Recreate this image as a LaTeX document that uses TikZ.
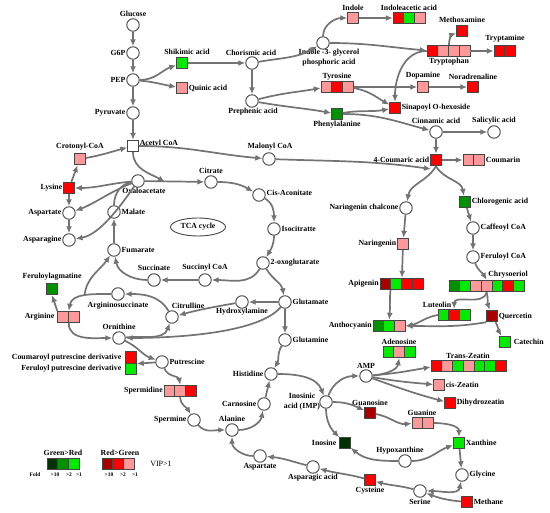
\documentclass[tikz,border=0pt]{standalone}
\usepackage{fontspec}
\setmainfont{Liberation Serif}
\usetikzlibrary{arrows.meta,positioning,shapes.geometric}

\definecolor{grnA}{RGB}{0,235,0}
\definecolor{grnB}{RGB}{0,145,0}
\definecolor{grnC}{RGB}{0,50,0}
\definecolor{redA}{RGB}{255,153,153}
\definecolor{redB}{RGB}{255,0,0}
\definecolor{redC}{RGB}{170,0,0}
\definecolor{lineg}{RGB}{115,115,115}
\definecolor{rimg}{RGB}{70,70,70}

\begin{document}
\begin{tikzpicture}[x=1pt,y=1pt]
    % Define styles for metabolites and links
    \tikzstyle{met}=[circle, draw=rimg, fill=white, line width=0.9pt, minimum size=12.5pt, inner sep=0pt]
    \tikzstyle{box}=[rectangle, draw=rimg, line width=0.8pt, minimum width=10.7pt, minimum height=11.5pt, inner sep=0pt]
    \tikzstyle{lbl}=[font=\fontsize{7.8}{10}\selectfont\bfseries, inner sep=0.8pt]
    \tikzstyle{tiny}=[font=\fontsize{5.5}{6}\selectfont\bfseries, inner sep=0pt]
    \tikzstyle{flow}=[draw=lineg, line width=1.7pt, -{Latex[length=7pt,width=6pt]}]
    \tikzstyle{link}=[draw=lineg, line width=1.7pt]
    \tikzstyle{twoway}=[draw=lineg, line width=1.7pt, {Latex[length=7pt,width=6pt]}-{Latex[length=7pt,width=6pt]}]

    \useasboundingbox (0,0) rectangle (550,-513);

    % Glycolysis
    \node[met] (glc) at (133,-25) {};
    \node[lbl] (glc-t) at (133,-14) {Glucose};
    \node[met] (g6p) at (133,-53) {};
    \node[lbl, anchor=east] (g6p-t) at (g6p.west) {G6P};
    \node[met] (pep) at (133,-80) {};
    \node[lbl, anchor=east] (pep-t) at (pep.west) {PEP};
    \node[met] (pyr) at (133,-113) {};
    \node[lbl, anchor=east] (pyr-t) at (pyr.west) {Pyruvate};
    \node[box, fill=white] (acoa) at (133,-146) {};
    \node[lbl, anchor=west] (acoa-t) at ([yshift=2.5pt]acoa.east) {Acetyl CoA};

    % Shikimate
    \node[box, fill=grnA] (shik) at (182,-63) {};
    \node[lbl] (shik-t) at (187,-52) {Shikimic acid};
    \node[box, fill=redA] (quin) at (182,-88) {};
    \node[lbl, anchor=west] (quin-t) at (quin.east) {Quinic acid};
    \node[met] (chor) at (252,-63) {};
    \node[lbl] (chor-t) at (251,-53) {Chorismic acid};
    \node[met] (preph) at (252,-101) {};
    \node[lbl] (preph-t) at (253,-112) {Prephenic acid};
    \node[met] (igp) at (323,-43) {};
    \node[lbl, align=center] (igp-t) at (329,-58) {Indole -3- glycerol\\phosphoric acid};

    % Tryptophan branch
    \node[box, fill=redA] (indole) at (353,-18) {};
    \node[lbl] (indole-t) at (353,-8) {Indole};
    \node[box, fill=redB] (iaa1) at (398.5,-18) {};
    \node[box, fill=grnA] (iaa2) at (409.2,-18) {};
    \node[box, fill=redA] (iaa3) at (419.9,-18) {};
    \node[lbl] (iaa-t) at (409,-8) {Indoleacetic acid};
    \node[box, fill=redB] (methox) at (462,-31) {};
    \node[lbl] (methox-t) at (462,-20) {Methoxamine};
    \node[box, fill=redB] (trp1) at (432.5,-51) {};
    \node[box, fill=redA] (trp2) at (443.2,-51) {};
    \node[box, fill=redA] (trp3) at (453.9,-51) {};
    \node[box, fill=redA] (trp4) at (464.6,-51) {};
    \node[lbl] (trp-t) at (449,-62) {Tryptophan};
    \node[box, fill=redB] (trpm1) at (499.5,-51) {};
    \node[box, fill=redB] (trpm2) at (510.2,-51) {};
    \node[lbl] (trpm-t) at (505,-39) {Tryptamine};

    % Tyrosine and phenylalanine
    \node[box, fill=redA] (tyr1) at (326.5,-87) {};
    \node[box, fill=redB] (tyr2) at (337.2,-87) {};
    \node[box, fill=redA] (tyr3) at (347.9,-87) {};
    \node[lbl] (tyr-t) at (337,-77) {Tyrosine};
    \node[box, fill=redA] (dopa) at (423,-87) {};
    \node[lbl] (dopa-t) at (423,-76) {Dopamine};
    \node[box, fill=redB] (nor) at (473,-87) {};
    \node[lbl] (nor-t) at (473,-77) {Noradrenaline};
    \node[box, fill=redB] (sinap) at (395,-108) {};
    \node[lbl, anchor=west] (sinap-t) at (sinap.east) {Sinapoyl O-hexoside};
    \node[box, fill=grnB] (phe) at (337,-114) {};
    \node[lbl] (phe-t) at (337,-125) {Phenylalanine};
    \node[met] (cinn) at (436,-132) {};
    \node[lbl] (cinn-t) at (436,-121) {Cinnamic acid};
    \node[met] (sal) at (494,-132) {};
    \node[lbl] (sal-t) at (494,-121) {Salicylic acid};
    \node[box, fill=redB] (coum) at (436,-160) {};
    \node[lbl, anchor=east] (coum-t) at (coum.west) {4-Coumaric acid};
    \node[box, fill=redA] (cmrn1) at (468.5,-160) {};
    \node[box, fill=redA] (cmrn2) at (479.2,-160) {};
    \node[lbl, anchor=west] (cmrn-t) at (cmrn2.east) {Coumarin};
    \coordinate (cj) at (431,-169);

    % Flavonoids
    \node[met] (nchal) at (406,-208) {};
    \node[lbl, anchor=east] (nchal-t) at (nchal.west) {Naringenin chalcone};
    \node[box, fill=redA] (nar) at (403,-244) {};
    \node[lbl, anchor=east] (nar-t) at (nar.west) {Naringenin};
    \node[box, fill=grnB] (chlor) at (465,-202) {};
    \node[lbl, anchor=west] (chlor-t) at (chlor.east) {Chlorogenic acid};
    \node[met] (caff) at (473,-228) {};
    \node[lbl, anchor=west] (caff-t) at (caff.east) {Caffeoyl CoA};
    \node[met] (fer) at (473,-257) {};
    \node[lbl, anchor=west] (fer-t) at (fer.east) {Feruloyl CoA};
    \node[box, fill=redC] (api1) at (385.5,-284) {};
    \node[box, fill=grnA] (api2) at (396.2,-284) {};
    \node[box, fill=redB] (api3) at (406.9,-284) {};
    \node[box, fill=redB] (api4) at (417.6,-284) {};
    \node[lbl, anchor=east] (api-t) at (api1.west) {Apigenin};
    \node[box, fill=grnB] (chry1) at (454.5,-286) {};
    \node[box, fill=grnA] (chry2) at (465.2,-286) {};
    \node[box, fill=redA] (chry3) at (475.9,-286) {};
    \node[box, fill=redA] (chry4) at (486.6,-286) {};
    \node[box, fill=grnA] (chry5) at (497.3,-286) {};
    \node[box, fill=redB] (chry6) at (508,-286) {};
    \node[box, fill=grnA] (chry7) at (518.7,-286) {};
    \node[lbl] (chry-t) at (508,-275) {Chrysoeriol};
    \node[box, fill=grnA] (lut1) at (443.5,-315) {};
    \node[box, fill=redB] (lut2) at (454.2,-315) {};
    \node[box, fill=grnA] (lut3) at (464.9,-315) {};
    \node[lbl] (lut-t) at (437,-305) {Luteolin};
    \node[box, fill=redC] (quer) at (492,-316) {};
    \node[lbl, anchor=west] (quer-t) at (quer.east) {Quercetin};
    \node[box, fill=grnB] (antho1) at (378.5,-326) {};
    \node[box, fill=grnA] (antho2) at (389.2,-326) {};
    \node[box, fill=redA] (antho3) at (399.9,-326) {};
    \node[lbl, anchor=east] (antho-t) at (antho1.west) {Anthocyanin};
    \node[box, fill=grnA] (cat) at (505,-342) {};
    \node[lbl, anchor=west] (cat-t) at ([xshift=2pt]cat.east) {Catechin};

    % TCA cycle
    \node[met] (mal) at (269,-159) {};
    \node[lbl] (mal-t) at (270,-147) {Malonyl CoA};
    \node[met] (oaa) at (138,-181) {};
    \node[lbl] (oaa-t) at (144,-191) {Oxaloacetate};
    \coordinate (tj) at (165,-182);
    \node[met] (cit) at (211,-182) {};
    \node[lbl] (cit-t) at (211,-171) {Citrate};
    \node[met] (cis) at (259,-195) {};
    \node[lbl, anchor=west] (cis-t) at ([yshift=2pt]cis.east) {Cis-Aconitate};
    \node[met] (iso) at (274,-229) {};
    \node[lbl, anchor=west] (iso-t) at (iso.east) {Isocitratte};
    \node[met] (oxo) at (263,-263) {};
    \node[lbl, anchor=west] (oxo-t) at (oxo.east) {2-oxoglutarate};
    \node[met] (succoa) at (205,-280) {};
    \node[lbl] (succoa-t) at (205,-268) {Succinyl CoA};
    \node[met] (succ) at (154,-280) {};
    \node[lbl] (succ-t) at (154,-268) {Succinate};
    \node[met] (fum) at (114,-250) {};
    \node[lbl, anchor=west] (fum-t) at (fum.east) {Fumarate};
    \node[met] (malate) at (114,-212) {};
    \node[lbl, anchor=west] (malate-t) at (malate.east) {Malate};
    \node[ellipse, draw=rimg, line width=0.9pt, minimum width=55pt, minimum height=18pt, inner sep=0pt, font=\fontsize{7.8}{10}\selectfont\bfseries] (tca) at (198,-227) {TCA cycle};

    % Lysine and aspartate family
    \node[box, fill=redA] (crot) at (80,-159) {};
    \node[lbl] (crot-t) at (80,-147) {Crotonyl-CoA};
    \node[box, fill=redB] (lys) at (69,-188) {};
    \node[lbl, anchor=east] (lys-t) at (lys.west) {Lysine};
    \node[met] (asp1) at (69,-213) {};
    \node[lbl, anchor=east] (asp1-t) at (asp1.west) {Aspartate};
    \node[met] (asn) at (69,-240) {};
    \node[lbl, anchor=east] (asn-t) at (asn.west) {Asparagine};

    % Urea cycle and polyamines
    \node[box, fill=grnB] (feragm) at (52,-289) {};
    \node[lbl] (feragm-t) at (52,-277) {Feruloylagmatine};
    \node[box, fill=redA] (arg1) at (63,-317) {};
    \node[box, fill=redA] (arg2) at (73.7,-317) {};
    \node[lbl, anchor=east] (arg-t) at ([xshift=-2pt]arg1.west) {Arginine};
    \node[met] (argsuc) at (118,-294) {};
    \node[lbl] (argsuc-t) at (118,-306) {Argininosuccinate};
    \coordinate (ab) at (84.5,-296);
    \node[met] (citr) at (172,-317) {};
    \node[lbl] (citr-t) at (188,-306) {Citrulline};
    \node[met] (hyd) at (242,-302) {};
    \node[lbl] (hyd-t) at (242,-312) {Hydroxylamine};
    \node[met] (glu) at (285,-302) {};
    \node[lbl, anchor=west] (glu-t) at (glu.east) {Glutamate};
    \node[met] (gln) at (285,-340) {};
    \node[lbl, anchor=west] (gln-t) at (gln.east) {Glutamine};
    \node[met] (orn) at (119,-338) {};
    \node[lbl] (orn-t) at (119,-327) {Ornithine};
    \node[met] (put) at (162,-362) {};
    \node[lbl, anchor=west] (put-t) at (put.east) {Putrescine};
    \node[box, fill=redB] (coup) at (131,-357.5) {};
    \node[lbl, anchor=east] (coup-t) at ([xshift=-3pt]coup.west) {Coumaroyl putrescine derivative};
    \node[box, fill=grnA] (ferp) at (131,-369) {};
    \node[lbl, anchor=east] (ferp-t) at ([xshift=-3pt]ferp.west) {Feruloyl putrescine derivative};
    \node[box, fill=redA] (spd1) at (169.5,-391) {};
    \node[box, fill=redA] (spd2) at (180.2,-391) {};
    \node[box, fill=redB] (spd3) at (190.9,-391) {};
    \node[lbl, anchor=east] (spd-t) at (spd1.west) {Spermidine};
    \node[met] (spm) at (194,-420) {};
    \node[lbl, anchor=east] (spm-t) at (spm.west) {Spermine};
    \node[met] (ala) at (232,-430) {};
    \node[lbl] (ala-t) at (232,-419) {Alanine};
    \node[met] (carn) at (264,-404) {};
    \node[lbl, anchor=east] (carn-t) at (carn.west) {Carnosine};
    \node[met] (his) at (271,-374) {};
    \node[lbl, anchor=east] (his-t) at (his.west) {Histidine};
    \node[met] (asp2) at (260,-456) {};
    \node[lbl] (asp2-t) at (260,-467) {Aspartate};

    % Purines and zeatins
    \node[met] (amp) at (366,-376) {};
    \node[lbl] (amp-t) at (366,-366) {AMP};
    \node[met] (imp) at (326,-402) {};
    \node[lbl, align=center] (imp-t) at (302,-402) {Inosinic\\acid (IMP)};
    \node[box, fill=grnA] (ado1) at (388.5,-352) {};
    \node[box, fill=redA] (ado2) at (399.2,-352) {};
    \node[box, fill=grnA] (ado3) at (409.9,-352) {};
    \node[lbl] (ado-t) at (399,-342) {Adenosine};
    \node[box, fill=redB] (tz1) at (436.5,-366) {};
    \node[box, fill=redA] (tz2) at (447.2,-366) {};
    \node[box, fill=grnA] (tz3) at (457.9,-366) {};
    \node[box, fill=redA] (tz4) at (468.6,-366) {};
    \node[box, fill=grnA] (tz5) at (479.3,-366) {};
    \node[box, fill=grnA] (tz6) at (490,-366) {};
    \node[box, fill=redB] (tz7) at (500.7,-366) {};
    \node[lbl] (tz-t) at (468,-356) {Trans-Zeatin};
    \node[box, fill=redA] (cz) at (439,-385) {};
    \node[lbl, anchor=west] (cz-t) at (cz.east) {cis-Zeatin};
    \node[box, fill=redB] (dhz) at (450,-403) {};
    \node[lbl, anchor=west] (dhz-t) at (dhz.east) {Dihydrozeatin};
    \node[box, fill=redC] (guo) at (370,-413) {};
    \node[lbl] (guo-t) at (370,-403) {Guanosine};
    \node[box, fill=redA] (gua1) at (417.5,-423) {};
    \node[box, fill=redA] (gua2) at (428.2,-423) {};
    \node[lbl] (gua-t) at (422,-413) {Guanine};
    \node[box, fill=grnA] (xan) at (459,-443) {};
    \node[lbl, anchor=west] (xan-t) at (xan.east) {Xanthine};
    \node[box, fill=grnC] (ino) at (345,-443) {};
    \node[lbl, anchor=east] (ino-t) at ([xshift=-2pt]ino.west) {Inosine};
    \node[met] (hypo) at (405,-461) {};
    \node[lbl] (hypo-t) at (400,-451) {Hypoxanthine};
    \node[met] (gly) at (462,-475) {};
    \node[lbl, anchor=west] (gly-t) at (gly.east) {Glycine};
    \node[met] (ser) at (420,-491) {};
    \node[lbl] (ser-t) at (420,-502) {Serine};
    \node[box, fill=redB] (cys) at (370,-480) {};
    \node[lbl] (cys-t) at (370,-491) {Cysteine};
    \node[box, fill=redB] (meth) at (467,-502) {};
    \node[lbl, anchor=west] (meth-t) at (meth.east) {Methane};
    \node[met] (aspa) at (313,-467) {};
    \node[lbl] (aspa-t) at (313,-478) {Asparagic acid};

    % Legend
    \node[lbl] (gr-t) at (63,-453) {Green>Red};
    \node[box, fill=grnC] (lg1) at (52.5,-464) {};
    \node[box, fill=grnB] (lg2) at (63.2,-464) {};
    \node[box, fill=grnA] (lg3) at (73.9,-464) {};
    \node[lbl] (rg-t) at (120,-453) {Red>Green};
    \node[box, fill=redC] (lr1) at (107.5,-464) {};
    \node[box, fill=redB] (lr2) at (118.2,-464) {};
    \node[box, fill=redA] (lr3) at (128.9,-464) {};
    \node[font=\fontsize{8}{9}\selectfont, inner sep=0pt] (vip-t) at (161,-464) {VIP>1};
    \node[tiny] (fold-t) at (35,-475) {Fold};
    \node[tiny] (lg1-t) at (55,-475) {>10};
    \node[tiny] (lg2-t) at (69,-475) {>2};
    \node[tiny] (lg3-t) at (79,-475) {>1};
    \node[tiny] (lr1-t) at (109,-475) {>10};
    \node[tiny] (lr2-t) at (123,-475) {>2};
    \node[tiny] (lr3-t) at (135,-475) {>1};

    % Connectors: glycolysis and shikimate
    \draw[flow] (glc) -- (g6p);
    \draw[flow] (g6p) -- (pep);
    \draw[flow] (pep) -- (pyr);
    \draw[flow] (pyr) -- (acoa);
    \draw[flow] (pep) to[out=0,in=200] (shik);
    \draw[flow] (pep) to[out=-5,in=170] (quin);
    \draw[flow] (shik) -- (chor);
    \draw[flow] (chor) -- (preph);
    \draw[flow] (chor) to[out=10,in=210] (igp);
    \draw[flow] (igp) to[out=90,in=180] (indole);
    \draw[flow] (indole) -- (iaa1);
    \draw[flow] (igp) to[out=0,in=175] (trp1);
    \draw[flow] (trp2.north east) to[out=90,in=200] (methox);
    \draw[flow] (trp4) -- (trpm1);
    \draw[flow] (trp1.west) to[out=180,in=90] (sinap.north);
    \draw[flow] (preph) to[out=15,in=190] (tyr1);
    \draw[flow] (preph) to[out=-10,in=170] (phe);
    \draw[flow] (tyr3) -- (dopa);
    \draw[flow] (dopa) -- (nor);
    \draw[flow] (tyr3) to[out=-10,in=150] (sinap);
    \draw[flow] (phe) to[out=10,in=190] (sinap);
    \draw[flow] (phe) to[out=0,in=165] (cinn);
    \draw[flow] (cinn) -- (sal);
    \draw[flow] (cinn) -- (coum);
    \draw[flow] (coum) -- (cmrn1);

    % Connectors: phenylpropanoids and flavonoids
    \draw[flow] (acoa) to[out=0,in=175] (mal);
    \draw[flow] (mal) to[out=-2,in=172] (cj);
    \draw[flow] (coum.south) to[out=-120,in=80] (nchal);
    \draw[flow] (coum.south) to[out=-60,in=100] (chlor);
    \draw[flow] (nchal) -- (nar);
    \draw[flow] (nar) -- (api2.north east);
    \draw[flow] (api2.south west) to[out=-95,in=85] (antho2.north);
    \draw[flow] (chlor) -- (caff);
    \draw[flow] (caff) -- (fer);
    \draw[flow] (fer) to[out=-70,in=120] (chry4.north);
    \draw[flow] (chry4.south) to[out=-100,in=90] (lut2.north);
    \draw[flow] (chry4.south) to[out=-75,in=110] (quer);
    \draw[flow] (lut1.west) to[out=190,in=10] (antho3.east);
    \draw[flow] (quer.south west) to[out=190,in=0] (antho3.east);
    \draw[flow] (quer) to[out=-60,in=120] (cat);

    % Connectors: TCA cycle
    \draw[flow] (acoa) to[out=-90,in=150] (tj);
    \draw[flow] (oaa) -- (cit);
    \draw[flow] (cit) to[out=0,in=150] (cis);
    \draw[flow] (cis) to[out=-30,in=90] (iso);
    \draw[flow] (iso) to[out=-90,in=60] (oxo);
    \draw[flow] (oxo) to[out=-120,in=0] (succoa);
    \draw[flow] (succoa) -- (succ);
    \draw[flow] (succ) to[out=180,in=-80] (fum);
    \draw[flow] (fum) -- (malate);
    \draw[link] (malate) to[out=90,in=190] (oaa);
    \draw[flow] (oaa) to[out=185,in=0] (lys);
    \draw[flow] (oaa) to[out=200,in=20,looseness=0.8] (asp1);
    \draw[flow] (oaa) to[out=235,in=10,looseness=0.8] (asn);
    \draw[flow] (lys) -- (crot);
    \draw[flow] (lys) -- (asp1);
    \draw[flow] (asp1) -- (asn);
    \draw[flow] (crot) to[out=10,in=195] (acoa);

    % Connectors: amino acids and urea cycle
    \draw[flow] (oxo) to[out=-60,in=100] (glu);
    \draw[flow] (glu) -- (hyd);
    \draw[flow] (hyd) to[out=190,in=15] (citr);
    \draw[flow] (glu) to[out=-130,in=0,looseness=0.6] (orn);
    \draw[flow] (glu) -- (gln);
    \draw[flow] (gln) to[out=-120,in=60] (his);
    \draw[flow] (orn) to[out=5,in=-110] (citr);
    \draw[flow] (citr) to[out=120,in=0] (argsuc);
    \draw[flow] (argsuc) to[out=180,in=80] (arg1.north east);
    \draw[flow] (ab) to[out=85,in=235] (fum);
    \draw[flow] (arg1.north west) -- (feragm.south);
    \draw[flow] (arg1.south east) to[out=-90,in=180] (orn);
    \draw[flow] (orn) to[out=-25,in=160] (put);
    \draw[flow] (put) -- (coup.south east);
    \draw[flow] (put) to[out=-70,in=100] (spd2.north);
    \draw[flow] (spd2.south) to[out=-90,in=120] (spm);
    \draw[flow] (spm) to[out=-50,in=180] (ala);
    \draw[flow] (ala) to[out=0,in=-100] (carn);
    \draw[flow] (carn) -- (his);
    \draw[flow] (his) to[out=0,in=110] (imp);

    % Connectors: purines
    \draw[flow] (imp) to[out=70,in=180] (amp);
    \draw[flow] (amp) to[out=5,in=-100] (ado2.south);
    \draw[flow] (amp) to[out=5,in=190] (tz1);
    \draw[flow] (amp) to[out=-10,in=175] (cz);
    \draw[flow] (amp) to[out=-20,in=165] (dhz);
    \draw[flow] (imp) to[out=0,in=155] (guo);
    \draw[flow] (guo) to[out=-10,in=185] (gua1);
    \draw[flow] (gua2) to[out=0,in=90] (xan);
    \draw[flow] (imp) to[out=-90,in=135] (ino);
    \draw[flow] (hypo) to[out=180,in=-40] (ino);
    \draw[flow] (hypo) to[out=0,in=200] (xan);
    \draw[flow] (xan) -- (gly);
    \draw[twoway] (ser) to[out=0,in=-100] (gly);
    \draw[flow] (meth) to[out=175,in=-20] (ser);
    \draw[flow] (ser) to[out=165,in=-15] (cys);
    \draw[flow] (cys) to[out=165,in=-15] (aspa);
    \draw[flow] (aspa) to[out=165,in=-5] (asp2);
    \draw[flow] (asp2) to[out=180,in=-90] (ala);
\end{tikzpicture}
\end{document}
